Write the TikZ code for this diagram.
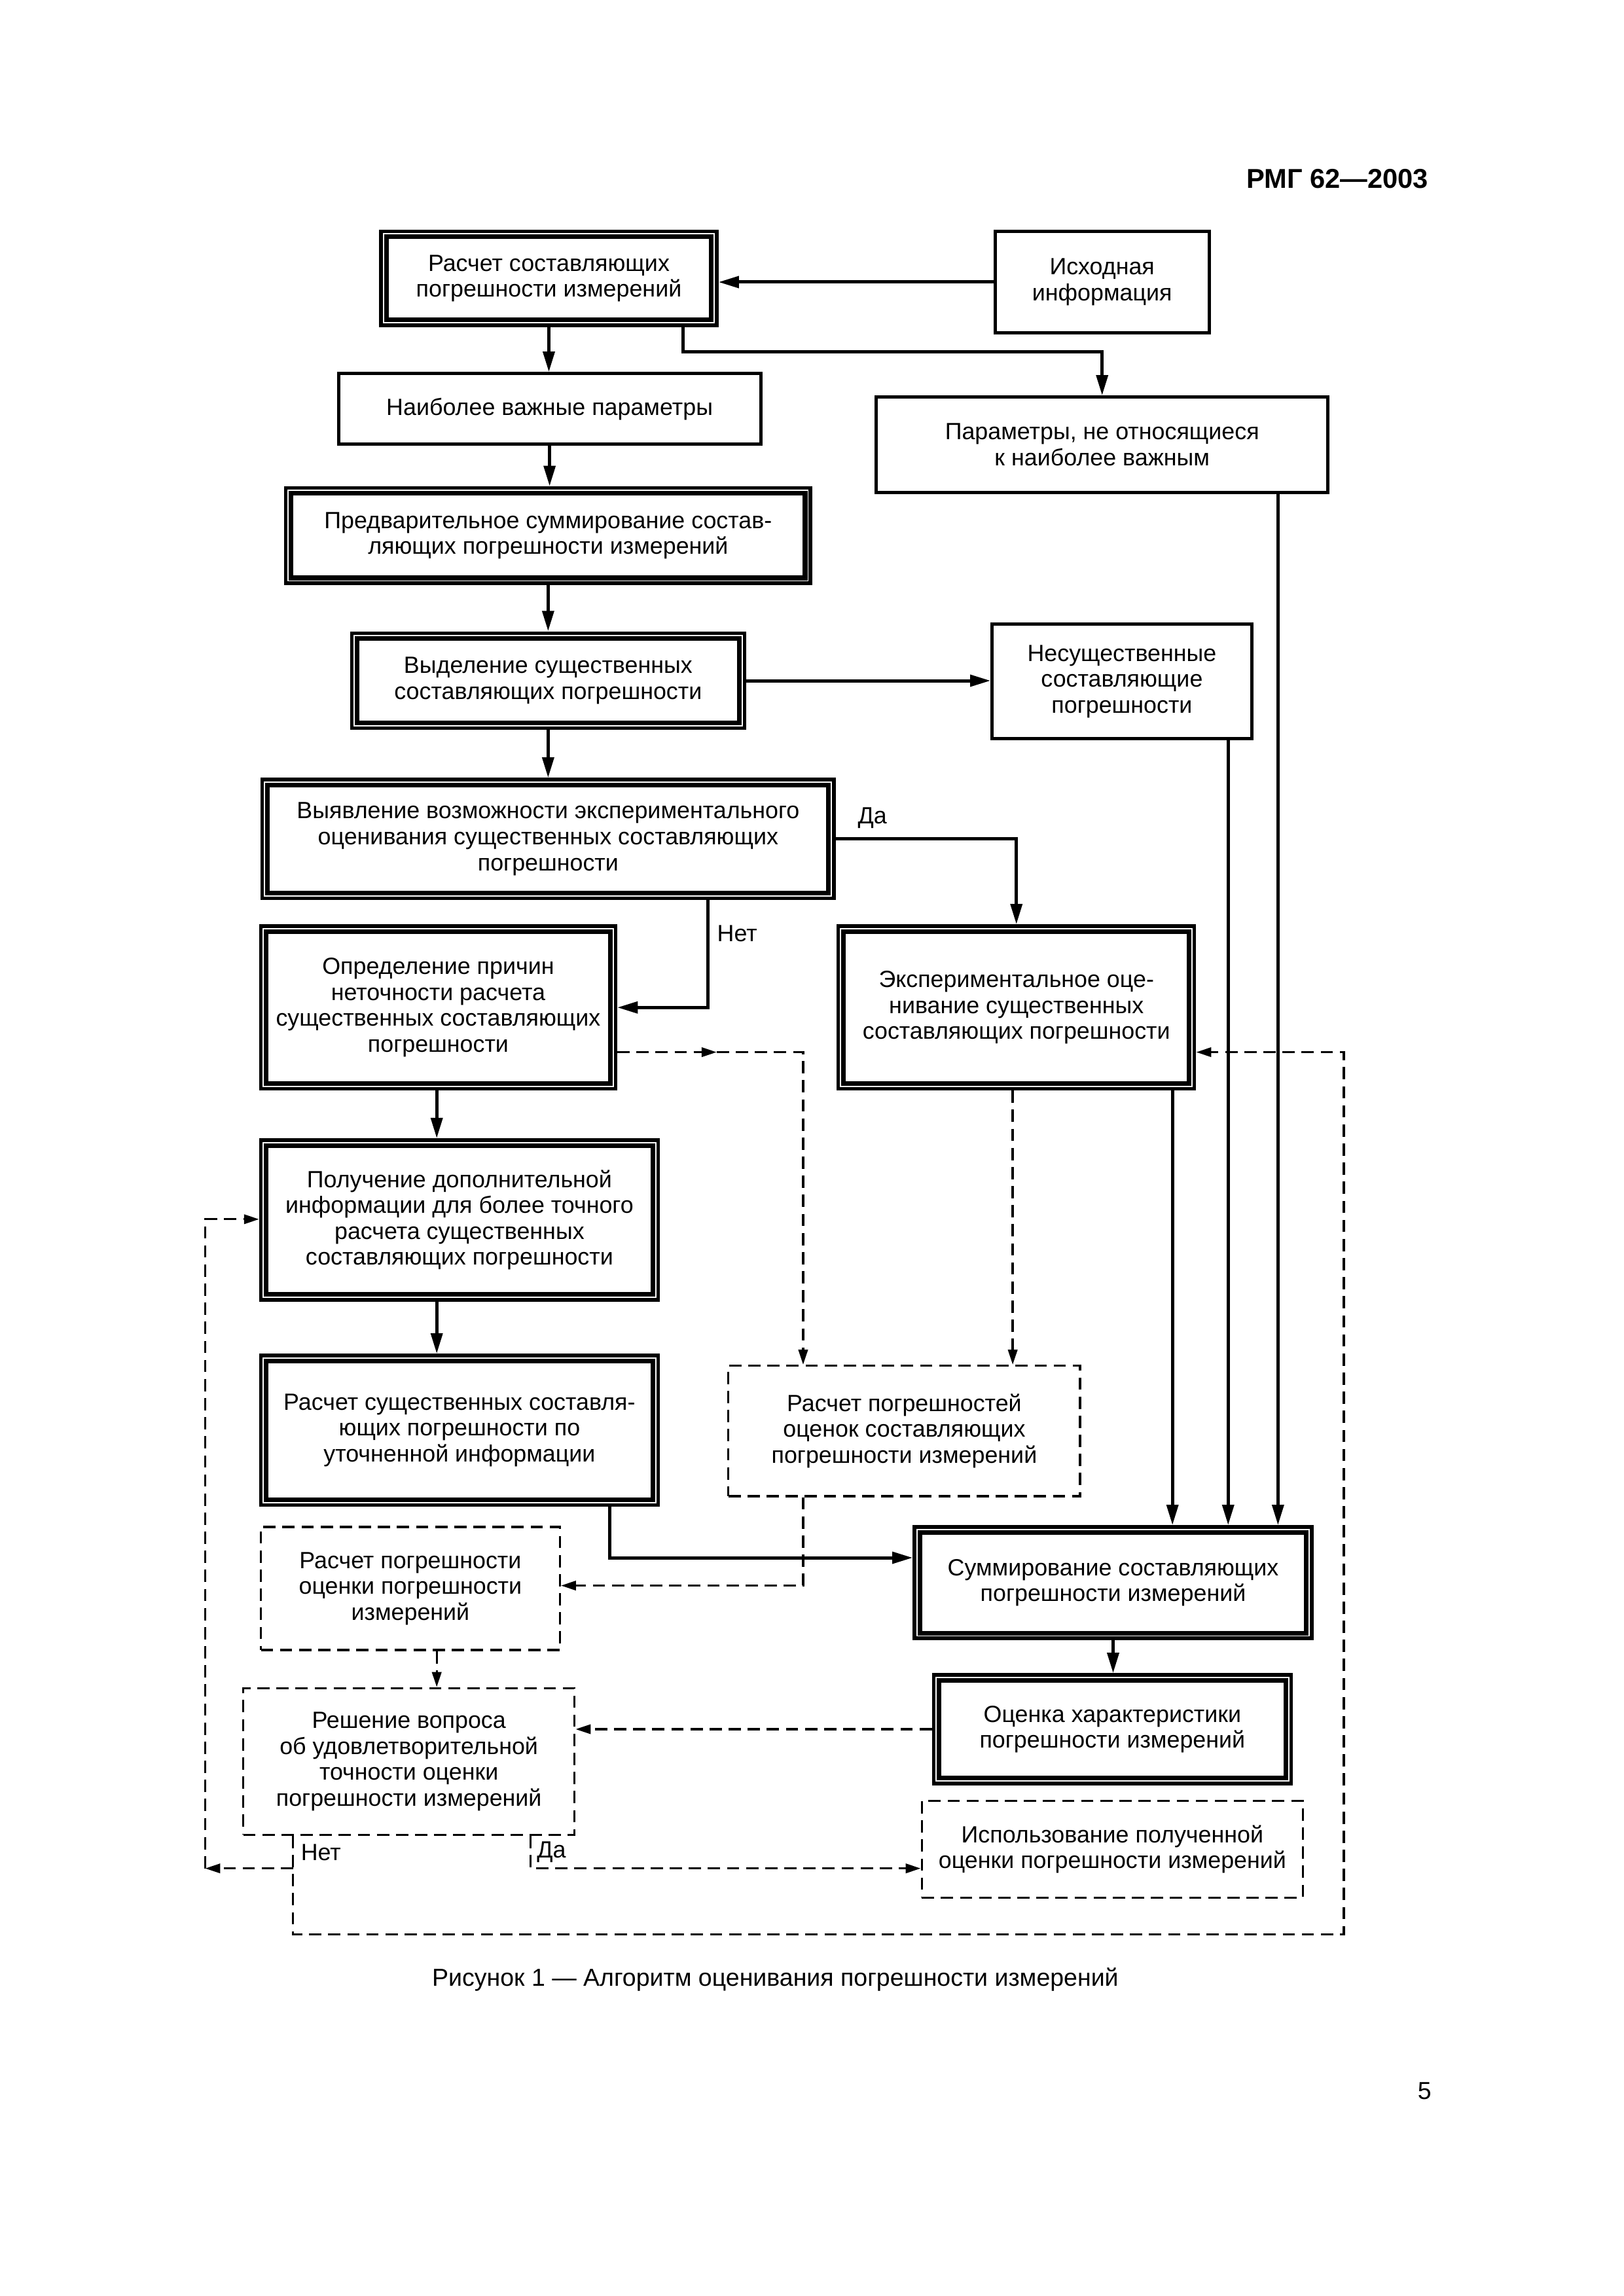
\documentclass[tikz,border=0pt]{standalone}
\usepackage{fontspec}
\setmainfont{Liberation Sans}
\usetikzlibrary{arrows.meta,calc}
\newcommand\figfont{\fontsize{8.6}{9.5}\selectfont}
\newcommand\mkbox[7]{%
  \node[#2, minimum width={(#5-#3)*0.5374pt}, minimum height={(#6-#4)*0.5374pt}] (#1) at ({(#3+#5)/2},{(#4+#6)/2}) {#7};}
\newcommand\innerbox[1]{%
  \draw[line width=1.7pt] ([shift={(2.6pt,-2.6pt)}]#1.north west) rectangle ([shift={(-2.6pt,2.6pt)}]#1.south east);}
\tikzset{
  box/.style={draw, rectangle, line width=1.2pt, inner sep=0pt, align=center, font=\figfont},
  dbox/.style={box, line width=1.3pt},
  dshbox/.style={box, line width=0.8pt, dash pattern=on 4.5pt off 2.5pt},
  sarr/.style={line width=1.2pt, -{Triangle[length=7.5pt,width=4.2pt]}},
  darr/.style={line width=0.8pt, dash pattern=on 4.5pt off 2.5pt, -{Triangle[length=5.5pt,width=3.4pt]}},
  lbl/.style={font=\figfont, inner sep=0pt}
}
\begin{document}
\begin{tikzpicture}[x=0.5374pt, y=-0.5374pt]
\useasboundingbox (0,0) rectangle (1107.7,1566.8);
\fill[white] (0,0) rectangle (1107.7,1566.8);

% header, caption, page number
\node[anchor=east, font=\fontsize{10}{12}\selectfont\bfseries, inner sep=0pt] (hdr) at (975,122) {РМГ 62—2003};
\node[font=\fontsize{9}{11}\selectfont, inner sep=0pt] (cap) at (529,1351) {Рисунок 1 — Алгоритм оценивания погрешности измерений};
\node[font=\fontsize{9}{11}\selectfont, inner sep=0pt] (pg) at (972,1427) {5};

% boxes
\mkbox{b1}{dbox}{260}{158}{489}{222}{Расчет составляющих\\погрешности измерений}
\mkbox{ish}{box}{679}{158}{825}{227}{Исходная\\информация}
\mkbox{nai}{box}{231}{255}{519}{303}{Наиболее важные параметры}
\mkbox{par}{box}{598}{271}{906}{336}{Параметры, не относящиеся\\к наиболее важным}
\mkbox{pre}{dbox}{195}{333}{553}{398}{Предварительное суммирование состав-\\ляющих погрешности измерений}
\mkbox{vyd}{dbox}{240}{432}{508}{497}{Выделение существенных\\составляющих погрешности}
\mkbox{nes}{box}{677}{426}{854}{504}{Несущественные\\составляющие\\погрешности}
\mkbox{vyy}{dbox}{179}{532}{569}{613}{Выявление возможности экспериментального\\оценивания существенных составляющих\\погрешности}
\mkbox{opr}{dbox}{178}{632}{420}{743}{Определение причин\\неточности расчета\\существенных составляющих\\погрешности}
\mkbox{eks}{dbox}{572}{632}{815}{743}{Экспериментальное оце-\\нивание существенных\\составляющих погрешности}
\mkbox{pol}{dbox}{178}{778}{449}{887}{Получение дополнительной\\информации для более точного\\расчета существенных\\составляющих погрешности}
\mkbox{rsu}{dbox}{178}{925}{449}{1027}{Расчет существенных составля-\\ющих погрешности по\\уточненной информации}
\mkbox{rpo}{dshbox}{497}{932}{737}{1021}{Расчет погрешностей\\оценок составляющих\\погрешности измерений}
\mkbox{rpe}{dshbox}{178}{1042}{382}{1126}{Расчет погрешности\\оценки погрешности\\измерений}
\mkbox{res}{dshbox}{166}{1152}{392}{1252}{Решение вопроса\\об удовлетворительной\\точности оценки\\погрешности измерений}
\mkbox{sum}{dbox}{624}{1042}{895}{1118}{Суммирование составляющих\\погрешности измерений}
\mkbox{ots}{dbox}{637}{1143}{881}{1217}{Оценка характеристики\\погрешности измерений}
\mkbox{isp}{dshbox}{629}{1229}{889}{1295}{Использование полученной\\оценки погрешности измерений}

\foreach \n in {b1,pre,vyd,vyy,opr,eks,pol,rsu,sum,ots} {\innerbox{\n}}

% coordinates
\coordinate (k1) at (466,240);
\coordinate (k2) at (483,0);
\coordinate (k3) at (548,718);
\coordinate (k3m) at (489,718);
\coordinate (k4) at (691,0);
\coordinate (k5) at (800,0);
\coordinate (k6) at (838,0);
\coordinate (k7) at (872,0);
\coordinate (k8) at (298,0);
\coordinate (k9) at (416,1063);
\coordinate (k10) at (548,1082);
\coordinate (k11) at (362,1275);
\coordinate (k12) at (200,1320);
\coordinate (k13) at (917,1320);
\coordinate (k14) at (917,718);
\coordinate (k15) at (200,1275);
\coordinate (k16) at (140,1275);
\coordinate (k17) at (140,832);

% solid connectors
\draw[sarr] (ish.west) -- (ish.west -| b1.east);
\draw[sarr] (b1.south) -- (b1.south |- nai.north);
\draw[sarr] (k1 |- b1.south) -- (k1) -| (par.north);
\draw[sarr] (nai.south) -- (nai.south |- pre.north);
\draw[sarr] (pre.south) -- (pre.south |- vyd.north);
\draw[sarr] (vyd.east) -- (vyd.east -| nes.west);
\draw[sarr] (vyd.south) -- (vyd.south |- vyy.north);
\draw[sarr] (vyy.east) -| (eks.north);
\draw[sarr] (k2 |- vyy.south) |- (opr.east);
\draw[sarr] (k5 |- eks.south) -- (k5 |- sum.north);
\draw[sarr] (k6 |- nes.south) -- (k6 |- sum.north);
\draw[sarr] (k7 |- par.south) -- (k7 |- sum.north);
\draw[sarr] (k8 |- opr.south) -- (k8 |- pol.north);
\draw[sarr] (k8 |- pol.south) -- (k8 |- rsu.north);
\draw[sarr] (k9 |- rsu.south) -- (k9) -- (k9 -| sum.west);
\draw[sarr] (sum.south) -- (sum.south |- ots.north);

% dashed connectors
\draw[darr] (opr.east |- k3) -- (k3m);
\draw[darr] (k3m) -- (k3) -- (k3 |- rpo.north);
\draw[darr] (k4 |- eks.south) -- (k4 |- rpo.north);
\draw[darr] (k10 |- rpo.south) -- (k10) -- (k10 -| rpe.east);
\draw[darr] (k8 |- rpe.south) -- (k8 |- res.north);
\draw[darr] (ots.west) -- (ots.west -| res.east);
\draw[darr] (k11 |- res.south) -- (k11) -- (k11 -| isp.west);
\draw[darr] (k12 |- res.south) -- (k12) -- (k13) -- (k14) -- (k14 -| eks.east);
\draw[darr] (k15) -- (k16);
\draw[darr] (k16) -- (k17) -- (k17 -| pol.west);

% labels
\node[lbl, anchor=west] (l1) at (585,558) {Да};
\node[lbl, anchor=west] (l2) at (489,637) {Нет};
\node[lbl, anchor=west] (l3) at (205,1264) {Нет};
\node[lbl, anchor=west] (l4) at (366,1264) {Да};
\end{tikzpicture}
\end{document}
